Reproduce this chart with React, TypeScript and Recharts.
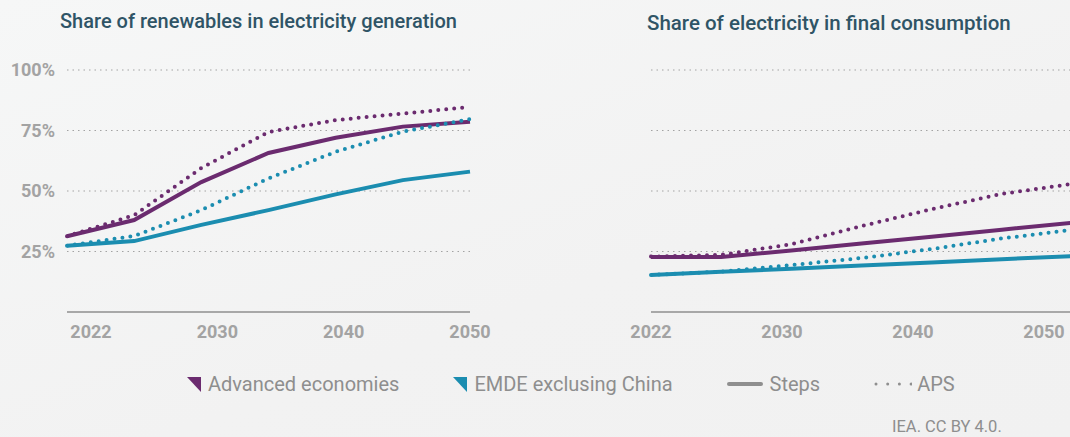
import React from "react";
import { LineChart, Line, XAxis, YAxis, CartesianGrid } from "recharts";

// category points along the projection period
const years = ["2022", "2025", "2030", "2035", "2040", "2045", "2050"];
const tickLabels = ["2022", "2030", "2040", "2050"];
const yTicks = [25, 50, 75, 100];

// share of renewables in electricity generation (%)
const renewAdvSteps = [31.3, 38, 53.7, 65.7, 72, 76.6, 78.6];
const renewAdvAps = [31.3, 40, 59.5, 74.4, 79.3, 82, 84.7];
const renewEmdeSteps = [27.4, 29.3, 36, 42.1, 48.6, 54.5, 58];
const renewEmdeAps = [27.4, 31.4, 42.1, 55.2, 66.2, 74.5, 79.7];

// share of electricity in final consumption (%)
const elecAdvSteps = [22.7, 22.7, 25.4, 28.3, 31.1, 34, 36.9];
const elecAdvAps = [22.9, 23.6, 28, 35.5, 42.5, 48.8, 52.9];
const elecEmdeSteps = [15.3, 16.6, 17.9, 19.2, 20.5, 21.8, 23.1];
const elecEmdeAps = [15.3, 16.7, 19.4, 22.3, 26, 30.4, 33.9];

const PURPLE = "#6b2b6f";
const TEAL = "#1b8db0";
const GREY_TEXT = "#a3a3a3";
const TITLE = "#2f5466";

const legendItems = [
  { label: "Advanced economies", kind: "tri", color: PURPLE },
  { label: "EMDE exclusing China", kind: "tri", color: TEAL },
  { label: "Steps", kind: "solid", color: "#8f8f8f" },
  { label: "APS", kind: "dots", color: "#8f8f8f" },
];

function rows(adv: number[], advAps: number[], emde: number[], emdeAps: number[]) {
  return years.map((year, i) => ({
    year,
    advSteps: adv[i],
    advAps: advAps[i],
    emdeSteps: emde[i],
    emdeAps: emdeAps[i],
  }));
}

function Panel({
  data,
  width,
  showY,
  labelPad,
  margin,
}: {
  data: any[];
  width: number;
  showY: boolean;
  labelPad: { left: number; right: number };
  margin: { left: number; right: number };
}) {
  return (
    <LineChart
      width={width}
      height={352}
      data={data}
      margin={{ top: 70, bottom: 0, ...margin }}
    >
      <CartesianGrid
        vertical={false}
        horizontalValues={yTicks}
        stroke="#a3a3a3"
        strokeDasharray="1.5 4"
        strokeWidth={1.2}
      />
      <XAxis dataKey="year" type="category" hide height={0} />
      {/* evenly spaced year labels under the plot */}
      <XAxis
        xAxisId="labels"
        dataKey="labelSlot"
        type="number"
        domain={[0, 3]}
        ticks={[0, 1, 2, 3]}
        allowDataOverflow
        padding={labelPad}
        tickFormatter={(v: number) => tickLabels[v]}
        axisLine={{ stroke: "#a8a8a8", strokeWidth: 2 }}
        tickLine={false}
        tickSize={0}
        tickMargin={13}
        height={40}
        interval={0}
        tick={{ fill: GREY_TEXT, fontSize: 18, fontWeight: 700 }}
      />
      <YAxis
        domain={[0, 100]}
        ticks={yTicks}
        hide={!showY}
        width={59}
        axisLine={false}
        tickLine={false}
        tickSize={0}
        tickMargin={12}
        tickFormatter={(v: number) => `${v}%`}
        tick={{ fill: GREY_TEXT, fontSize: 18, fontWeight: 700 }}
      />
      <Line dataKey="advSteps" stroke={PURPLE} strokeWidth={4} dot={false} isAnimationActive={false} />
      <Line dataKey="emdeSteps" stroke={TEAL} strokeWidth={4} dot={false} isAnimationActive={false} />
      <Line
        dataKey="advAps"
        stroke={PURPLE}
        strokeWidth={4}
        strokeDasharray="0 8"
        strokeLinecap="round"
        dot={false}
        isAnimationActive={false}
      />
      <Line
        dataKey="emdeAps"
        stroke={TEAL}
        strokeWidth={4}
        strokeDasharray="0 8"
        strokeLinecap="round"
        dot={false}
        isAnimationActive={false}
      />
    </LineChart>
  );
}

function LegendIcon({ kind, color }: { kind: string; color: string }) {
  if (kind === "tri") {
    return (
      <svg width={14} height={15} style={{ marginRight: 7 }}>
        <polygon points="0,0 14,0 14,15" fill={color} />
      </svg>
    );
  }
  if (kind === "solid") {
    return (
      <svg width={36} height={6} style={{ marginRight: 7 }}>
        <line x1={2} y1={3} x2={34} y2={3} stroke={color} strokeWidth={4} strokeLinecap="round" />
      </svg>
    );
  }
  return (
    <svg width={38} height={6} style={{ marginRight: 5 }}>
      {[0, 1, 2, 3].map((i) => (
        <circle key={i} cx={2 + i * 11.7} cy={3} r={1.5} fill={color} />
      ))}
    </svg>
  );
}

export default function App() {
  const left = rows(renewAdvSteps, renewAdvAps, renewEmdeSteps, renewEmdeAps);
  const right = rows(elecAdvSteps, elecAdvAps, elecEmdeSteps, elecEmdeAps);
  return (
    <div
      style={{
        position: "absolute",
        left: 0,
        top: 0,
        width: 1070,
        height: 437,
        overflow: "hidden",
        background: "linear-gradient(160deg, #f6f7f7 0%, #f2f2f2 60%, #f1f1f1 100%)",
        fontFamily: "Roboto, sans-serif",
      }}
    >
      <div style={{ position: "absolute", left: 60, top: 9, fontSize: 20, fontWeight: 500, color: TITLE }}>
        Share of renewables in electricity generation
      </div>
      <div style={{ position: "absolute", left: 647, top: 11, fontSize: 20.5, fontWeight: 500, color: TITLE }}>
        Share of electricity in final consumption
      </div>

      <div style={{ position: "absolute", left: 0, top: 0 }}>
        <Panel
          data={left}
          width={505}
          showY
          margin={{ left: 8, right: 35 }}
          labelPad={{ left: 24, right: 0 }}
        />
      </div>
      <div style={{ position: "absolute", left: 613, top: 0 }}>
        <Panel
          data={right}
          width={459}
          showY={false}
          margin={{ left: 38, right: 0 }}
          labelPad={{ left: 0, right: 28 }}
        />
      </div>

      <div
        style={{
          position: "absolute",
          left: 187,
          top: 372,
          display: "flex",
          alignItems: "center",
          gap: 54,
          fontSize: 20,
          color: "#8e8e8e",
        }}
      >
        {legendItems.map((it) => (
          <div key={it.label} style={{ display: "flex", alignItems: "center" }}>
            <LegendIcon kind={it.kind} color={it.color} />
            <span>{it.label}</span>
          </div>
        ))}
      </div>

      <div style={{ position: "absolute", left: 892, top: 417, fontSize: 16.5, color: "#8e8e8e" }}>
        IEA. CC BY 4.0.
      </div>
    </div>
  );
}
